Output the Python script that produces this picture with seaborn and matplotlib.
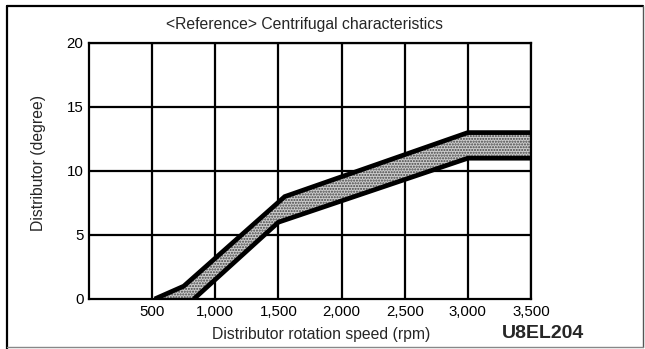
import numpy as np
import pandas as pd
import matplotlib
matplotlib.use("Agg")
import matplotlib.pyplot as plt
from matplotlib.lines import Line2D
import seaborn as sns

# Advance band limits: distributor rotation speed (rpm) vs advance (degree)
upper_rpm = [520, 750, 1550, 3000, 3500]
upper_deg = [0, 1, 8, 13, 13]
lower_rpm = [830, 1500, 3000, 3500]
lower_deg = [0, 6, 11, 11]

x_ticks = [500, 1000, 1500, 2000, 2500, 3000, 3500]
x_tick_labels = ["500", "1,000", "1,500", "2,000", "2,500", "3,000", "3,500"]
y_ticks = [0, 5, 10, 15, 20]

sns.set_theme(style="white")
plt.rcParams["font.family"] = ["Liberation Sans", "DejaVu Sans"]

fig = plt.figure(figsize=(6.45, 3.49), dpi=100)
ax = fig.add_axes([89 / 645, 50 / 349, 442 / 645, 256 / 349])

# grid
for xv in x_ticks:
    ax.axvline(xv, color="black", lw=1.6, zorder=1)
for yv in y_ticks[1:]:
    ax.axhline(yv, color="black", lw=1.6, zorder=1)

# shaded band between the limits
band_x = np.concatenate([upper_rpm, lower_rpm[::-1]])
band_y = np.concatenate([upper_deg, lower_deg[::-1]])
ax.fill(band_x, band_y, facecolor="#cccccc", edgecolor="#444444",
        hatch="......", lw=0, zorder=2)

df = pd.concat([
    pd.DataFrame({"rpm": upper_rpm, "deg": upper_deg, "limit": "upper"}),
    pd.DataFrame({"rpm": lower_rpm, "deg": lower_deg, "limit": "lower"}),
])
sns.lineplot(data=df, x="rpm", y="deg", units="limit", estimator=None,
             color="black", lw=3.4, sort=False, ax=ax, zorder=3)
for coll in ax.lines:
    coll.set_solid_joinstyle("miter")
    coll.set_solid_capstyle("butt")

ax.set_xlim(0, 3500)
ax.set_ylim(0, 20)
ax.set_xticks(x_ticks)
ax.set_xticklabels(x_tick_labels)
ax.set_yticks(y_ticks)
ax.tick_params(axis="both", length=0, labelsize=10.8, colors="black")
ax.tick_params(axis="x", pad=4)
ax.tick_params(axis="y", pad=4)
ax.set_xlabel("")
ax.set_ylabel("")
for s in ax.spines.values():
    s.set_visible(True)
    s.set_color("black")
    s.set_linewidth(1.6)
ax.set_facecolor("white")
ax.grid(False)

fig.text(304 / 645, 1 - 24 / 349, "<Reference> Centrifugal characteristics",
         ha="center", va="center", fontsize=11.3)
fig.text(321 / 645, 1 - 334 / 349, "Distributor rotation speed (rpm)",
         ha="center", va="center", fontsize=11.3)
fig.text(543 / 645, 1 - 334 / 349, "U8EL204",
         ha="center", va="center", fontsize=14, fontweight="bold")
fig.text(39 / 645, 1 - 163 / 349, "Distributor (degree)",
         ha="center", va="center", rotation=90, fontsize=11.3)

# page frame
fig.add_artist(Line2D([7 / 645, 7 / 645], [0, 1 - 6 / 349],
                      transform=fig.transFigure, color="black", lw=1.6))
fig.add_artist(Line2D([7 / 645, 643 / 645], [1 - 6 / 349, 1 - 6 / 349],
                      transform=fig.transFigure, color="black", lw=1.6))
fig.add_artist(Line2D([643 / 645, 643 / 645], [1 - 6 / 349, 1 - 347 / 349],
                      transform=fig.transFigure, color="#555555", lw=1.0))
fig.add_artist(Line2D([7 / 645, 643 / 645], [1 - 347 / 349, 1 - 347 / 349],
                      transform=fig.transFigure, color="#888888", lw=1.0))

fig.savefig("out.png", dpi=100, facecolor="white")
